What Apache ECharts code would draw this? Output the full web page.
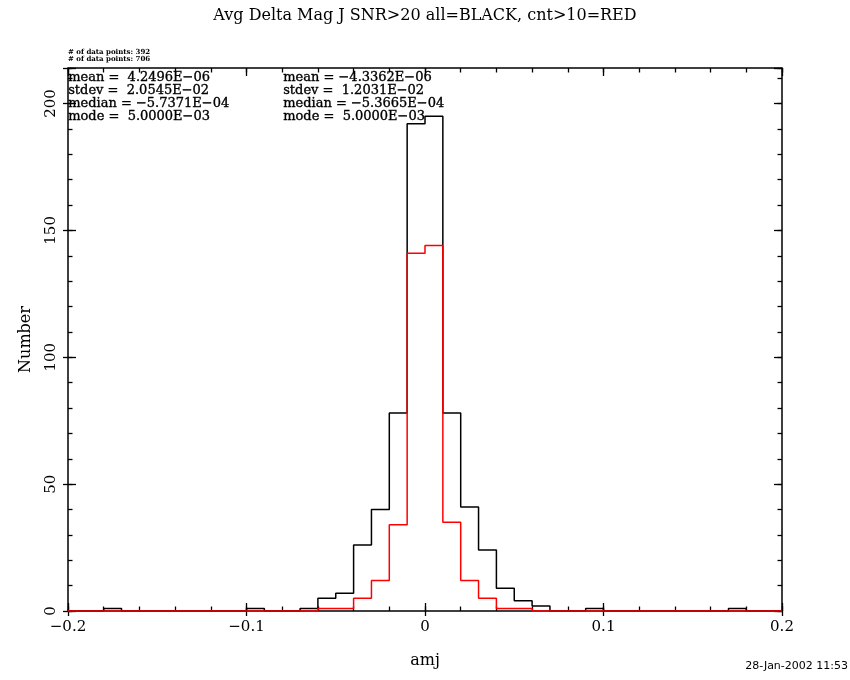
<!DOCTYPE html>
<html><head><meta charset="utf-8">
<script src="https://cdn.jsdelivr.net/npm/echarts/dist/echarts.min.js"></script>
<style>html,body{margin:0;padding:0;background:#fff}#c{width:850px;height:680px}</style>
</head><body><div id="c"></div>
<script>
// bin edges (41 edges -> 40 bins of width 0.01)
const binEdges = [-0.20,-0.19,-0.18,-0.17,-0.16,-0.15,-0.14,-0.13,-0.12,-0.11,
                  -0.10,-0.09,-0.08,-0.07,-0.06,-0.05,-0.04,-0.03,-0.02,-0.01,
                   0.00, 0.01, 0.02, 0.03, 0.04, 0.05, 0.06, 0.07, 0.08, 0.09,
                   0.10, 0.11, 0.12, 0.13, 0.14, 0.15, 0.16, 0.17, 0.18, 0.19, 0.20];
// all (BLACK), 706 points
const allCounts = [0,0,1,0,0,0,0,0,0,0,
                   1,0,0,1,5,7,26,40,78,192,
                   195,78,41,24,9,4,2,0,0,1,
                   0,0,0,0,0,0,0,1,0,0];
// cnt>10 (RED), 392 points
const cntCounts = [0,0,0,0,0,0,0,0,0,0,
                   0,0,0,0,1,1,5,12,34,141,
                   144,35,12,5,1,1,0,0,0,0,
                   0,0,0,0,0,0,0,0,0,0];
const xTickLabels = [-0.2,-0.1,0,0.1,0.2];
const yTickLabels = [0,50,100,150,200];
const pointsLines = ['# of data points: 392','# of data points: 706'];
const statsAll = ['mean =  4.2496E\u221206','stdev =  2.0545E\u221202','median = \u22125.7371E\u221204','mode =  5.0000E\u221203'];
const statsCnt = ['mean = \u22124.3362E\u221206','stdev =  1.2031E\u221202','median = \u22125.3665E\u221204','mode =  5.0000E\u221203'];
const titleText = 'Avg Delta Mag J SNR>20 all=BLACK, cnt>10=RED';
const dateText = '28-Jan-2002 11:53';

function stepData(counts){
  const d = counts.map((c,i)=>[binEdges[i], c]);
  d.push([binEdges[binEdges.length-1], counts[counts.length-1]]);
  return d;
}

const SERIF = "'DejaVu Serif', 'Liberation Serif', serif";
const XMIN = -0.2, XMAX = 0.2, YMIN = 0, YMAX = 214;

function xAx(pos, interval, inside, len, extra){
  return Object.assign({
    type:'value', position:pos, min:XMIN, max:XMAX, interval:interval,
    axisLine:{show:false, onZero:false}, splitLine:{show:false},
    axisTick:{show:true, inside:inside, length:len, lineStyle:{color:'#000', width:1.3}},
    axisLabel:{show:false}
  }, extra||{});
}
function yAx(pos, interval, inside, len, extra){
  return Object.assign({
    type:'value', position:pos, min:YMIN, max:YMAX, interval:interval,
    axisLine:{show:false, onZero:false}, splitLine:{show:false},
    axisTick:{show:true, inside:inside, length:len, lineStyle:{color:'#000', width:1.3}},
    axisLabel:{show:false}
  }, extra||{});
}

const statFont = "13px "+SERIF;
const graphics = [];
pointsLines.forEach((t,i)=>graphics.push({type:'text', left:68, top:49+i*7,
  style:{text:t, font:"bold 7px "+SERIF, fill:'#000'}}));
statsAll.forEach((t,i)=>graphics.push({type:'text', left:68, top:71+i*13,
  style:{text:t, font:statFont, fill:'#000', stroke:'#000', lineWidth:0.35}}));
statsCnt.forEach((t,i)=>graphics.push({type:'text', left:283, top:71+i*13,
  style:{text:t, font:statFont, fill:'#000', stroke:'#000', lineWidth:0.35}}));
graphics.push({type:'text', right:2, top:661,
  style:{text:dateText, font:"11px 'DejaVu Sans', sans-serif", fill:'#000'}});

const chart = echarts.init(document.getElementById('c'), null, {renderer:'canvas'});
chart.setOption({
  backgroundColor:'#fff',
  animation:false,
  title:{text:titleText, left:'center', top:3,
    textStyle:{fontFamily:SERIF, fontSize:16, fontWeight:'normal', color:'#000'}},
  grid:{left:68, right:68, top:68, bottom:69, show:true, borderColor:'#000', borderWidth:1.5, backgroundColor:'transparent'},
  xAxis:[
    xAx('bottom', 0.1, true, 8, {
      axisLabel:{show:true, margin:9, fontFamily:SERIF, fontSize:15, color:'#000',
        formatter:v=>{const m = xTickLabels.find(t=>Math.abs(t-v)<1e-9); return m===undefined?'':String(m).replace('-','\u2212');}},
      name:'amj', nameLocation:'middle', nameGap:42,
      nameTextStyle:{fontFamily:SERIF, fontSize:16, color:'#000'}
    }),
    xAx('bottom', 0.02, true, 4.5),
    xAx('bottom', 0.1, false, 5),
    xAx('top', 0.1, true, 8),
    xAx('top', 0.02, true, 4.5)
  ],
  yAxis:[
    yAx('left', 50, true, 8, {
      axisLabel:{show:true, rotate:90, margin:9, fontFamily:SERIF, fontSize:15, color:'#000',
        formatter:v=>{const m = yTickLabels.find(t=>Math.abs(t-v)<1e-9); return m===undefined?'':String(m);}},
      name:'Number', nameLocation:'middle', nameGap:34, nameRotate:90,
      nameTextStyle:{fontFamily:SERIF, fontSize:16, color:'#000'}
    }),
    yAx('left', 10, true, 4.5),
    yAx('left', 50, false, 5),
    yAx('right', 50, true, 8),
    yAx('right', 10, true, 4.5)
  ],
  series:[
    {type:'line', name:'all', xAxisIndex:0, yAxisIndex:0, step:'end', data:stepData(allCounts),
     showSymbol:false, symbol:'none', clip:false, lineStyle:{color:'#000', width:1.5}, z:3},
    {type:'line', name:'cnt>10', xAxisIndex:0, yAxisIndex:0, step:'end', data:stepData(cntCounts),
     showSymbol:false, symbol:'none', clip:false, lineStyle:{color:'#ff0000', width:1.5}, z:4}
  ],
  graphic:graphics
});
</script>
</body></html>
